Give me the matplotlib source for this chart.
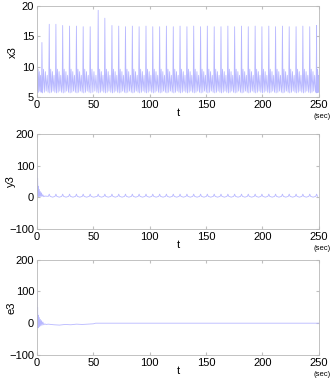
import numpy as np
import matplotlib
matplotlib.use('Agg')
import matplotlib.pyplot as plt

plt.rcParams['font.family'] = ['Liberation Sans', 'DejaVu Sans']
plt.rcParams['font.size'] = 8

# x3: big spikes (time, height)
peak_t = [0.0, 4.4, 10.9, 16.8, 22.8, 28.9, 35.0, 41.0, 47.2, 54.3, 60.2, 66.5,
          72.5, 78.5, 84.6, 90.6, 96.7, 102.7, 108.8, 114.8, 120.9, 126.9, 133.0,
          139.0, 145.1, 151.1, 157.2, 163.2, 169.3, 175.3, 181.4, 187.4, 193.5,
          199.5, 205.6, 211.6, 217.7, 223.7, 229.8, 235.8, 241.9, 248.0]
peak_h = [15.3, 14.0, 17.0, 17.0, 16.8, 16.7, 16.7, 16.6, 16.6, 19.3, 18.0, 16.8,
          16.7, 16.6, 16.7, 16.6, 16.7, 16.6, 16.6, 16.7, 16.6, 16.7, 16.6, 16.7,
          16.6, 16.7, 16.6, 16.6, 16.7, 16.6, 16.7, 16.6, 16.7, 16.6, 16.7, 16.6,
          16.7, 16.6, 16.6, 16.7, 16.6, 16.8]
# shape between two spikes (fraction of the gap, value)
gap_frac = [0.08, 0.22, 0.33, 0.47, 0.58, 0.72, 0.84, 0.93]
gap_val = [5.7, 9.6, 5.8, 9.2, 6.0, 8.6, 5.8, 7.0]

# y3: transient then small periodic bumps
y3_t0 = [0.0, 0.3, 0.6, 0.9, 1.2, 1.6, 2.0, 2.5, 3.0, 3.5, 4.0, 4.6, 5.2, 6.0, 7.0]
y3_v0 = [110, 20, 60, 5, 35, 2, 25, 3, 18, 2, 14, 3, 8, 2, 4]
y3_base = 3.0
y3_bump = 10.0

# e3: transient, slow tail, then zero
e3_t = [0.0, 0.3, 0.6, 0.9, 1.2, 1.6, 2.0, 2.5, 3.0, 3.5, 4.0, 4.6, 5.2, 6.0,
        7.0, 8.0, 10.0, 15.0, 20.0, 25.0, 30.0, 35.0, 40.0, 45.0, 50.0, 52.0, 250.0]
e3_v = [100, -10, 50, -15, 25, -12, 18, -10, 12, -8, 8, -6, 4, -5,
        -2, -4, -3, -5, -6, -4, -5, -3, -4, -3, -2, 0, 0]

line_c = (0.72, 0.72, 1.0)

# build x3 vertices
xt, xv = [], []
for i in range(len(peak_t)):
    xt.append(peak_t[i]); xv.append(peak_h[i])
    nxt = peak_t[i + 1] if i + 1 < len(peak_t) else 250.0
    g = nxt - peak_t[i]
    for f, v in zip(gap_frac, gap_val):
        if peak_t[i] + f * g <= 250:
            xt.append(peak_t[i] + f * g); xv.append(v)

# build y3 vertices
yt, yv = list(y3_t0), list(y3_v0)
for p in peak_t[2:]:
    for dt, v in [(-0.8, y3_base), (0.0, y3_bump), (0.8, y3_base), (3.0, 0.5)]:
        if p + dt <= 250:
            yt.append(p + dt); yv.append(v)

fig = plt.figure(figsize=(3.36, 3.78), dpi=100)
boxes = [[0.110, 0.743, 0.839, 0.241],
         [0.110, 0.394, 0.839, 0.252],
         [0.110, 0.061, 0.839, 0.252]]
series = [(xt, xv, 'x3', (5, 20), [5, 10, 15, 20], -0.085),
          (yt, yv, 'y3', (-100, 200), [-100, 0, 100, 200], -0.092),
          (e3_t, e3_v, 'e3', (-100, 200), [-100, 0, 100, 200], -0.092)]

for box, (t, v, name, ylim, yt_ticks, lab_x) in zip(boxes, series):
    ax = fig.add_axes(box)
    ax.plot(t, v, color=line_c, lw=0.6)
    ax.set_xlim(0, 250)
    ax.set_ylim(*ylim)
    ax.set_xticks([0, 50, 100, 150, 200, 250])
    ax.set_yticks(yt_ticks)
    ax.tick_params(direction='in', length=2.5, color='0.75', pad=2,
                   top=True, right=True)
    for s in ax.spines.values():
        s.set_color('0.72')
        s.set_linewidth(0.6)
    ax.set_ylabel(name)
    ax.yaxis.set_label_coords(lab_x, 0.5)
    ax.yaxis.label.set_va('center')
    ax.set_xlabel('t')
    ax.xaxis.set_label_coords(0.5, -0.12)
    ax.xaxis.label.set_va('top')
    ax.text(1.01, -0.17, '(sec)', transform=ax.transAxes, fontsize=5.5,
            ha='center', va='top')

fig.savefig('out.png', dpi=100)
